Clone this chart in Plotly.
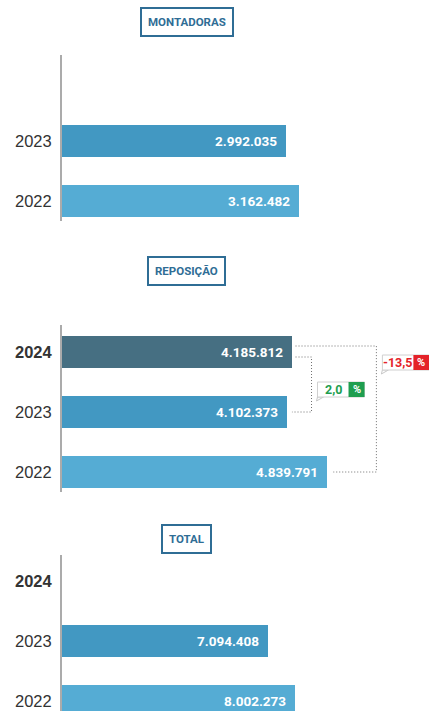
import plotly.graph_objects as go

# ---------------- data ----------------
years = [2024, 2023, 2022]
year_labels = ["<b>2024</b>", "2023", "2022"]
montadoras = [None, 2992035, 3162482]
reposicao = [4185812, 4102373, 4839791]
total = [None, 7094408, 8002273]
panel_titles = ["MONTADORAS", "REPOSIÇÃO", "TOTAL"]

# ---------------- style ----------------
W, H = 429, 711
X0 = 62                      # left edge of bars (px)
bar_colors = {2024: "#466f82", 2023: "#4298c2", 2022: "#55acd4"}
title_color = "#2f6d95"
green, red = "#1e9e4f", "#e42229"


def fx(p):
    return p / W


def fy(p):
    return 1 - p / H


def fmt(v):
    return f"{v:,}".replace(",", ".")


def pfmt(v):
    return f"{v:.1f}".replace(".", ",")


panels = [
    dict(vals=montadoras, top=51, bottom=231, ymin=2021.5, xmax=4.893e6,
         title_y=22, line=(55, 221), ticks=[1, 2]),
    dict(vals=reposicao, top=322, bottom=502, ymin=2021.5, xmax=6.693e6,
         title_y=270.7, line=(325, 492), ticks=[0, 1, 2]),
    dict(vals=total, top=551, bottom=711, ymin=2021.8333, xmax=12.61e6,
         title_y=538.5, line=(555, 711), ticks=[0, 1, 2]),
]

fig = go.Figure()
annotations, shapes = [], []
layout = {}

for i, p in enumerate(panels, start=1):
    xa, ya = f"x{i}", f"y{i}"
    xs = [v for v in p["vals"] if v is not None]
    ys = [y for y, v in zip(years, p["vals"]) if v is not None]
    fig.add_trace(go.Bar(
        x=xs, y=ys, orientation="h", width=0.533,
        marker=dict(color=[bar_colors[y] for y in ys], line=dict(width=0)),
        xaxis=xa, yaxis=ya, hoverinfo="skip", showlegend=False))
    for v, y in zip(xs, ys):
        annotations.append(dict(
            x=v, y=y, xref=xa, yref=ya, text=f"<b>{fmt(v)}</b>",
            showarrow=False, xanchor="right", xshift=-7,
            font=dict(family="Roboto", size=13.5, color="white")))
    layout[f"xaxis{i}"] = dict(
        domain=[fx(X0), 1], range=[0, p["xmax"]], visible=False,
        fixedrange=True, anchor=ya)
    layout[f"yaxis{i}"] = dict(
        domain=[max(0, fy(p["bottom"])), fy(p["top"])],
        range=[p["ymin"], 2024.5], anchor=xa,
        tickvals=[years[k] for k in p["ticks"]],
        ticktext=[year_labels[k] for k in p["ticks"]],
        ticks="outside", ticklen=6, tickcolor="rgba(0,0,0,0)",
        showgrid=False, zeroline=False, showline=False, fixedrange=True,
        tickfont=dict(family="Liberation Sans", size=16.5, color="#333333"))
    # vertical axis line
    shapes.append(dict(type="line", xref="paper", yref="paper",
                       x0=fx(61), x1=fx(61),
                       y0=fy(p["line"][0]), y1=max(0, fy(p["line"][1])),
                       line=dict(color="#ababab", width=2)))
    # panel title box
    annotations.append(dict(
        x=fx(186.5), y=fy(p["title_y"]), xref="paper", yref="paper",
        text=f"<b>{panel_titles[i-1]}</b>", showarrow=False,
        xanchor="center", yanchor="middle",
        font=dict(family="Roboto", size=11.5, color=title_color),
        bordercolor=title_color, borderwidth=2, borderpad=6,
        bgcolor="white"))

# ---------------- change callouts (REPOSIÇÃO panel) ----------------
p = panels[1]
ux = p["xmax"] / (W - X0)              # data units per px (x)
uy = 3 / (p["bottom"] - p["top"])      # data units per px (y)
v24, v23, v22 = reposicao
dot = dict(color="#707070", width=1, dash="1px,2px")

# 2024 vs 2023
bx1 = max(v24, v23) + 20 * ux
shapes.append(dict(type="path", xref="x2", yref="y2", line=dot,
                   path=f"M {v24 + 4*ux},{2024 - 5*uy} L {bx1},{2024 - 5*uy} "
                        f"L {bx1},{2023} L {v23 + 5*ux},{2023}"))
# 2024 vs 2022
bx2 = max(v24, v22) + 49 * ux
shapes.append(dict(type="path", xref="x2", yref="y2", line=dot,
                   path=f"M {v24 + 4*ux},{2024 + 6*uy} L {bx2},{2024 + 6*uy} "
                        f"L {bx2},{2022} L {v22 + 6*ux},{2022}"))

callouts = [
    (bx1, 30, (v24 / v23 - 1) * 100, green),
    (bx2, 3, (v24 / v22 - 1) * 100, red),
]
for bx, dy, pct, col in callouts:
    left = bx + 6 * ux
    right = left + 47 * ux
    sq = right - 16 * ux
    top = 2024 - dy * uy
    bot = top - 15 * uy
    # tail
    shapes.append(dict(type="path", xref="x2", yref="y2",
                       path=f"M {left},{bot} L {left + 6*ux},{bot} L {left - 1*ux},{bot - 4*uy} Z",
                       fillcolor="white", line=dict(color="#c8c8c8", width=1)))
    shapes.append(dict(type="rect", xref="x2", yref="y2",
                       x0=left, x1=right, y0=bot, y1=top,
                       fillcolor="white", line=dict(color="#d0d0d0", width=1)))
    shapes.append(dict(type="rect", xref="x2", yref="y2",
                       x0=sq, x1=right, y0=bot, y1=top,
                       fillcolor=col, line=dict(width=0)))
    annotations.append(dict(x=(left + sq) / 2, y=(top + bot) / 2, xref="x2", yref="y2",
                            text=f"<b>{pfmt(pct)}</b>", showarrow=False,
                            font=dict(family="Roboto", size=12.5, color=col)))
    annotations.append(dict(x=(sq + right) / 2, y=(top + bot) / 2, xref="x2", yref="y2",
                            text="<b>%</b>", showarrow=False,
                            font=dict(family="Roboto", size=11, color="white")))

fig.update_layout(
    width=W, height=H, margin=dict(l=0, r=0, t=0, b=0),
    paper_bgcolor="white", plot_bgcolor="white",
    annotations=annotations, shapes=shapes, bargap=0, **layout)

fig.write_html(
    "out.html", config={"displayModeBar": False},
    post_script="document.body.style.margin='0';document.body.style.overflow='hidden';")
